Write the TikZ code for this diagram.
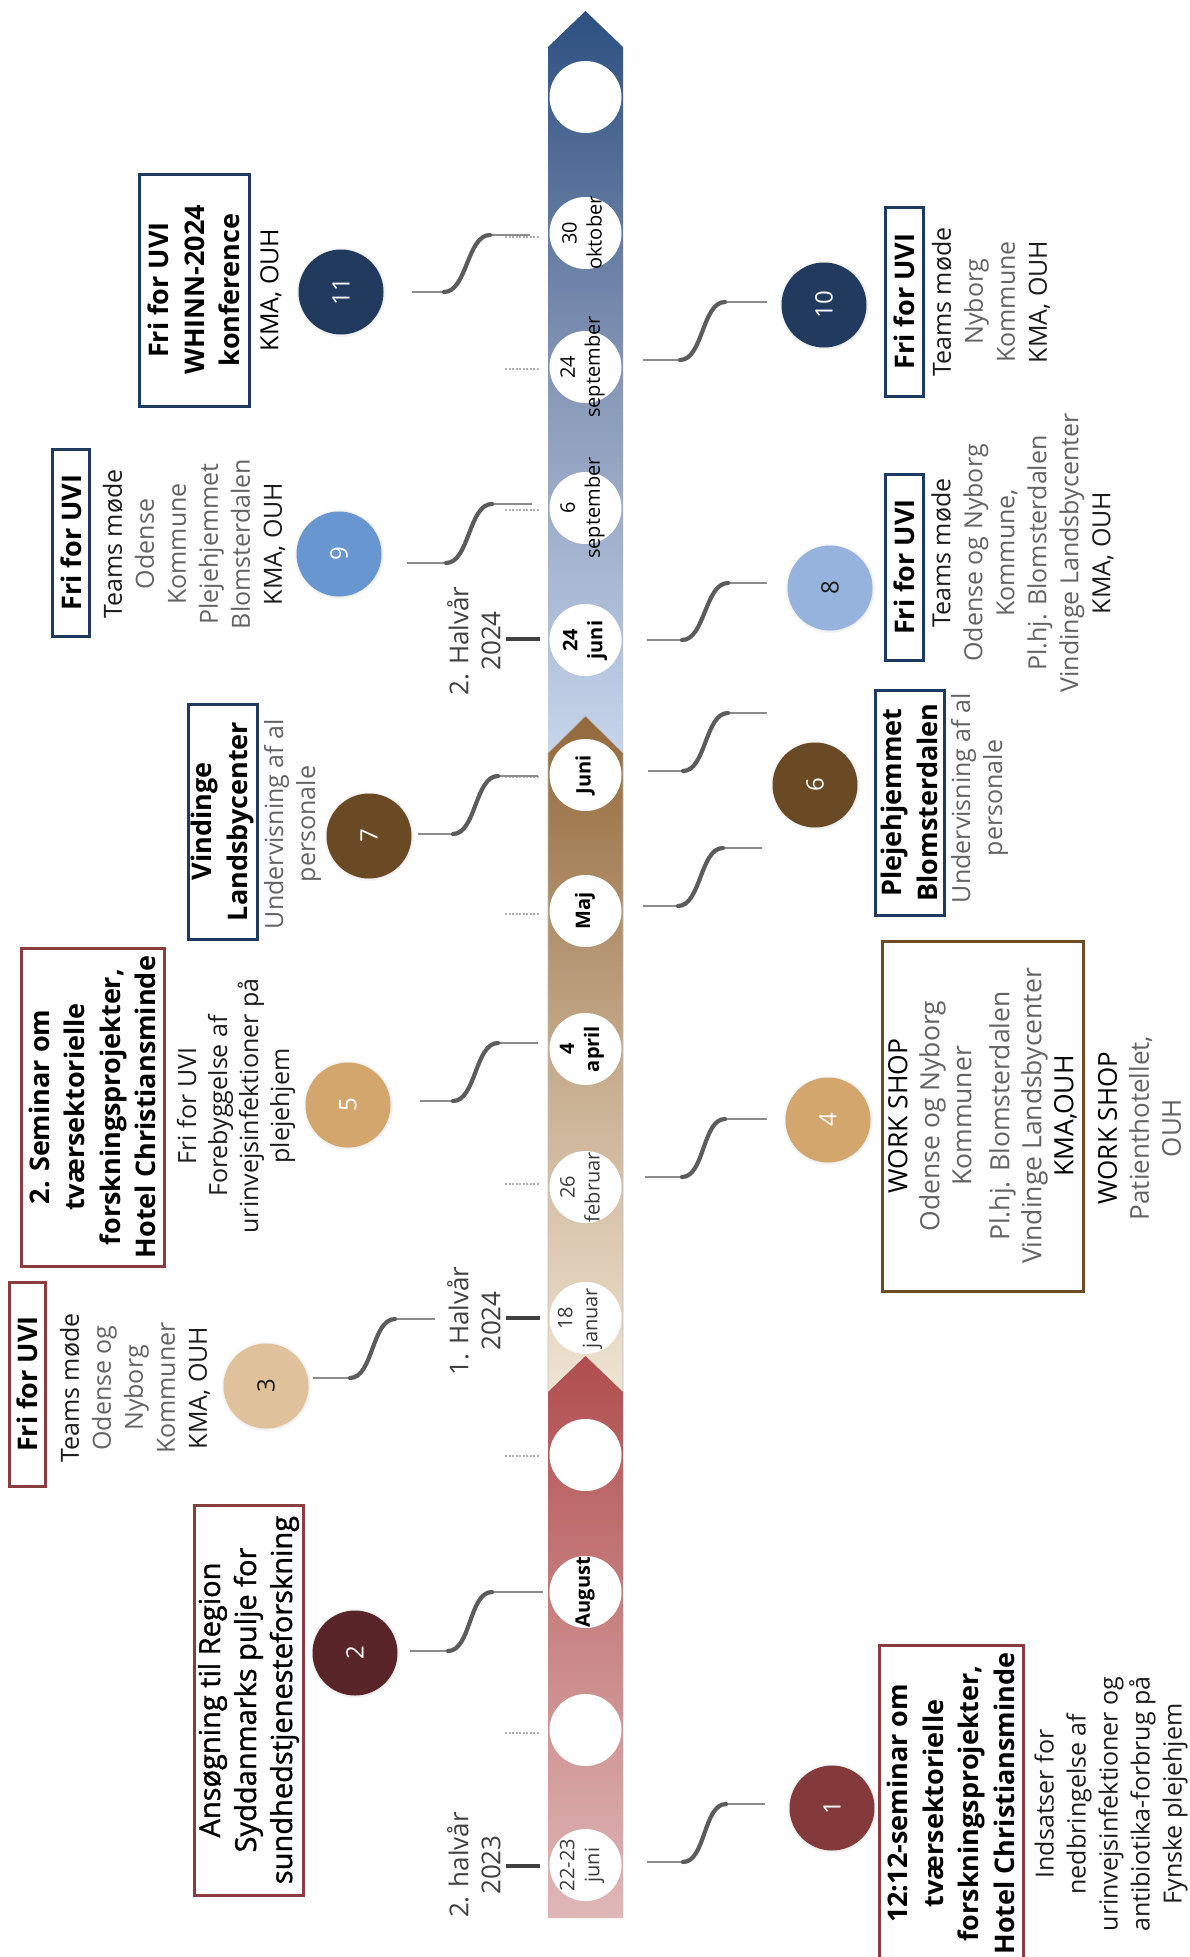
\documentclass[tikz,border=0pt]{standalone}
\usepackage{fontspec}
\setmainfont{Open Sans}
\newfontface\semiface[FakeBold=1.2]{Open Sans}
\usetikzlibrary{shadows}
\definecolor{boxblue}{HTML}{1F3A60}
\definecolor{boxred}{HTML}{8B3C3C}
\definecolor{boxbrown}{HTML}{6B4C25}
\definecolor{txtgrey}{HTML}{636363}
\definecolor{txtdark}{HTML}{1C1C1C}
\definecolor{halfgrey}{HTML}{404040}
\definecolor{datgrey}{HTML}{3A3A3A}
\definecolor{conndark}{HTML}{5C5C5C}
\definecolor{connthin}{HTML}{8C8C8C}
\definecolor{dotgrey}{HTML}{B0B0B0}
\definecolor{cOne}{HTML}{843A3A}
\definecolor{cTwo}{HTML}{5A2529}
\definecolor{cThree}{HTML}{DFC29B}
\definecolor{cFour}{HTML}{D2A66C}
\definecolor{cSix}{HTML}{6A4A24}
\definecolor{cEight}{HTML}{95B3DC}
\definecolor{cNine}{HTML}{6796D0}
\definecolor{cTen}{HTML}{213A5E}
\definecolor{blueT}{HTML}{2D5081}
\definecolor{blueM}{HTML}{8797B7}
\definecolor{blueB}{HTML}{C6D5EB}
\definecolor{brT}{HTML}{93693B}
\definecolor{brM}{HTML}{C4A98A}
\definecolor{brB}{HTML}{EFE4D3}
\definecolor{rdT}{HTML}{B04D4E}
\definecolor{rdM}{HTML}{C98585}
\definecolor{rdB}{HTML}{DFB7B7}
\newcommand\myconn[7]{%
  \coordinate (#1s) at (#2,#3);
  \coordinate (#1a) at (#4,#3);
  \coordinate (#1b) at (#5,#6);
  \coordinate (#1e) at (#7,#6);
  \draw[thinc] (#1s) -- (#1a);
  \draw[thinc] (#1b) -- (#1e);
  \draw[scurve] (#1a) to[out=0,in=180,looseness=0.8] (#1b);
}
\begin{document}
\begin{tikzpicture}[x=1pt,y=-1pt,
  numc/.style={circle, minimum size=85pt, inner sep=0pt, rotate=90,
    font=\fontsize{24}{28}\selectfont, text=white,
    circular drop shadow={opacity=0.3, shadow xshift=0pt, shadow yshift=0pt, shadow scale=1.07}},
  datec/.style={circle, fill=white, minimum size=72pt, inner sep=0pt},
  datel/.style={rotate=90, align=center, inner sep=0pt, font=\fontsize{20}{25}\selectfont, text=black},
  dateb/.style={datel, font=\fontsize{20}{25}\selectfont\bfseries},
  dateg/.style={datel, text=datgrey},
  titlebox/.style={draw, line width=3pt, rotate=90, align=center, inner sep=0pt,
    font=\fontsize{27}{35.5}\selectfont\bfseries, text=black},
  body/.style={rotate=90, align=center, inner sep=0pt, font=\fontsize{25}{32}\selectfont, text=txtdark},
  half/.style={rotate=90, align=center, inner sep=0pt, font=\fontsize{26}{32}\selectfont, text=halfgrey},
  tickmark/.style={draw=halfgrey, line width=4pt},
  dots/.style={draw=dotgrey, line width=1.2pt, dash pattern=on 2pt off 1.5pt},
  thinc/.style={draw=connthin, line width=1.4pt},
  scurve/.style={draw=conndark, line width=4.2pt, line cap=round},
]
\path[use as bounding box, fill=white] (0,0) rectangle (1190,1957);
\clip (0,0) rectangle (1190,1957);

% timeline band
\shade[top color=blueT, bottom color=blueB, middle color=blueM]
  (548,753) -- (548,47) -- (585.5,11) -- (623,47) -- (623,753) -- cycle;
\shade[top color=brT, bottom color=brB, middle color=brM, draw=black!25, line width=0.6pt]
  (548,1392) -- (548,753) -- (585.5,716) -- (623,753) -- (623,1392) -- cycle;
\shade[top color=rdT, bottom color=rdB, middle color=rdM]
  (548,1918) -- (548,1392) -- (585.5,1356) -- (623,1392) -- (623,1918) -- cycle;

% date circles
\foreach \yy/\nm in {97/d1,233/d2,367/d3,508/d4,640/d5,775/d6,911/d7,1049/d8,1187/d9,1318/d10,1455/d11,1592/d12,1730/d13,1865/d14}
  \node[datec] (\nm) at (585.5,\yy) {};

\node[datel] (l2) at (582,233) {30\\oktober};
\node[datel] (l3) at (582.5,367) {24\\september};
\node[datel] (l4) at (582.5,508) {6\\september};
\node[dateb] (l5) at (585,640) {24\\juni};
\node[dateb] (l6) at (585,775) {Juni};
\node[dateb] (l7) at (585,911) {Maj};
\node[dateb] (l8) at (582,1049) {4\\april};
\node[dateg] (l9) at (580,1187) {26\\februar};
\node[dateg] (l10) at (580,1318) {18\\januar};
\node[dateb] (l12) at (585,1592) {August};
\node[dateg] (l14) at (582,1865) {22-23\\juni};

% ticks
\foreach \yy in {237,369,510,777,914,1184,1456,1592,1733}
  \draw[dots] (505,\yy) -- (540,\yy);
\foreach \yy in {639,1318,1866}
  \draw[tickmark] (506,\yy) -- (540,\yy);

% half-year labels
\node[half] (h1) at (474,641) {2. Halvår\\2024};
\node[half] (h2) at (474,1321) {1. Halvår\\2024};
\node[half] (h3) at (474,1865) {2. halvår\\2023};

% connectors
\myconn{k11}{412}{292}{444}{490}{235}{530}
\myconn{k9}{407}{563}{446}{492}{504}{532}
\myconn{k7}{418}{834}{453}{498}{776}{538}
\myconn{k5}{420}{1101}{453}{498}{1043}{538}
\myconn{k3}{313}{1378}{350}{395}{1319}{435}
\myconn{k2}{410}{1651}{448}{492}{1592}{543}
\myconn{k10}{643}{360}{680}{725}{302}{767}
\myconn{k8}{647}{640}{682}{728}{583}{767}
\myconn{k6a}{648}{771}{683}{728}{713}{767}
\myconn{k6b}{643}{906}{678}{723}{848}{762}
\myconn{k4}{645}{1177}{682}{725}{1119}{767}
\myconn{k1}{647}{1862}{683}{726}{1804}{765}

% number circles
\node[numc, fill=cOne] (n1) at (832,1808) {1};
\node[numc, fill=cTwo] (n2) at (355,1653) {2};
\node[numc, fill=cThree, text=txtdark] (n3) at (266,1386) {3};
\node[numc, fill=cFour] (n4) at (828,1120) {4};
\node[numc, fill=cFour] (n5) at (348,1105) {5};
\node[numc, fill=cSix] (n6) at (815,785) {6};
\node[numc, fill=cSix] (n7) at (369,836) {7};
\node[numc, fill=cEight, text=txtdark] (n8) at (830,588) {8};
\node[numc, fill=cNine] (n9) at (339,554) {9};
\node[numc, fill=cTen] (n10) at (824,305) {10};
\node[numc, fill=cTen] (n11) at (341,292) {11};

% left side blocks
\node[titlebox, draw=boxblue, minimum width=232pt, minimum height=110pt] (b11) at (194,290)
  {Fri for UVI\\WHINN-2024\\konference};
\node[body, text=black] (t11) at (271,290) {KMA, OUH};

\node[titlebox, draw=boxblue, minimum width=187pt, minimum height=37pt] (b9) at (71.4,542.5) {Fri for UVI};
\node[body] (t9) at (194,544) {Teams møde\\\textcolor{txtgrey}{Odense}\\\textcolor{txtgrey}{Kommune}\\\textcolor{txtgrey}{Plejehjemmet}\\\textcolor{txtgrey}{Blomsterdalen}\\KMA, OUH};

\node[titlebox, draw=boxblue, minimum width=235pt, minimum height=69pt] (b7) at (222.5,821.5) {Vindinge\\Landsbycenter};
\node[body, text=txtgrey] (t7) at (292.5,824) {Undervisning af al\\personale};

\node[titlebox, draw=boxred, minimum width=318pt, minimum height=143pt] (b5) at (92.5,1107)
  {2. Seminar om\\tværsektorielle\\forskningsprojekter,\\Hotel Christiansminde};
\node[body, font=\fontsize{25}{31}\selectfont] (t5) at (236,1106) {Fri for UVI\\Forebyggelse af\\urinvejsinfektioner på\\plejehjem};

\node[titlebox, draw=boxred, minimum width=204pt, minimum height=36pt] (b3) at (27,1384) {Fri for UVI};
\node[body] (t3) at (135,1388) {Teams møde\\\textcolor{txtgrey}{Odense og}\\\textcolor{txtgrey}{Nyborg}\\\textcolor{txtgrey}{Kommuner}\\KMA, OUH};

\node[titlebox, draw=boxred, font=\fontsize{29}{36}\selectfont\semiface, minimum width=390pt, minimum height=109pt] (b2) at (248.5,1700)
  {Ansøgning til Region\\Syddanmarks pulje for\\sundhedstjenesteforskning};

% right side blocks
\node[titlebox, draw=boxblue, minimum width=189pt, minimum height=38pt] (b10) at (904,301.5) {Fri for UVI};
\node[body] (t10) at (991,302) {Teams møde\\\textcolor{txtgrey}{Nyborg}\\\textcolor{txtgrey}{Kommune}\\KMA, OUH};

\node[titlebox, draw=boxblue, minimum width=186pt, minimum height=38pt] (b8) at (904,567) {Fri for UVI};
\node[body] (t8) at (1022.5,553) {Teams møde\\\textcolor{txtgrey}{Odense og Nyborg}\\\textcolor{txtgrey}{Kommune,}\\\textcolor{txtgrey}{Pl.hj. Blomsterdalen}\\\textcolor{txtgrey}{Vindinge Landsbycenter}\\KMA, OUH};

\node[titlebox, draw=boxblue, minimum width=225pt, minimum height=69pt] (b6) at (909.5,802.5) {Plejehjemmet\\Blomsterdalen};
\node[body, text=txtgrey] (t6) at (979.5,798) {Undervisning af al\\personale};

\node[titlebox, draw=boxbrown, font=\fontsize{26.5}{32}\selectfont, text=txtgrey, minimum width=350pt, minimum height=201pt] (b4) at (982.5,1116)
  {\textcolor{black}{WORK SHOP}\\Odense og Nyborg\\Kommuner\\[6pt]Pl.hj. Blomsterdalen\\Vindinge Landsbycenter\\\textcolor{black}{KMA,OUH}};
\node[body, text=txtgrey, font=\fontsize{26}{32}\selectfont] (t4) at (1139.5,1128) {\textcolor{black}{WORK SHOP}\\Patienthotellet,\\OUH};

\node[titlebox, draw=boxred, minimum width=317pt, minimum height=144pt] (b1) at (951,1803.5)
  {12:12-seminar om\\tværsektorielle\\forskningsprojekter,\\Hotel Christiansminde};
\node[body] (t1) at (1111,1804) {Indsatser for\\nedbringelse af\\urinvejsinfektioner og\\antibiotika-forbrug på\\Fynske plejehjem};
\end{tikzpicture}
\end{document}
